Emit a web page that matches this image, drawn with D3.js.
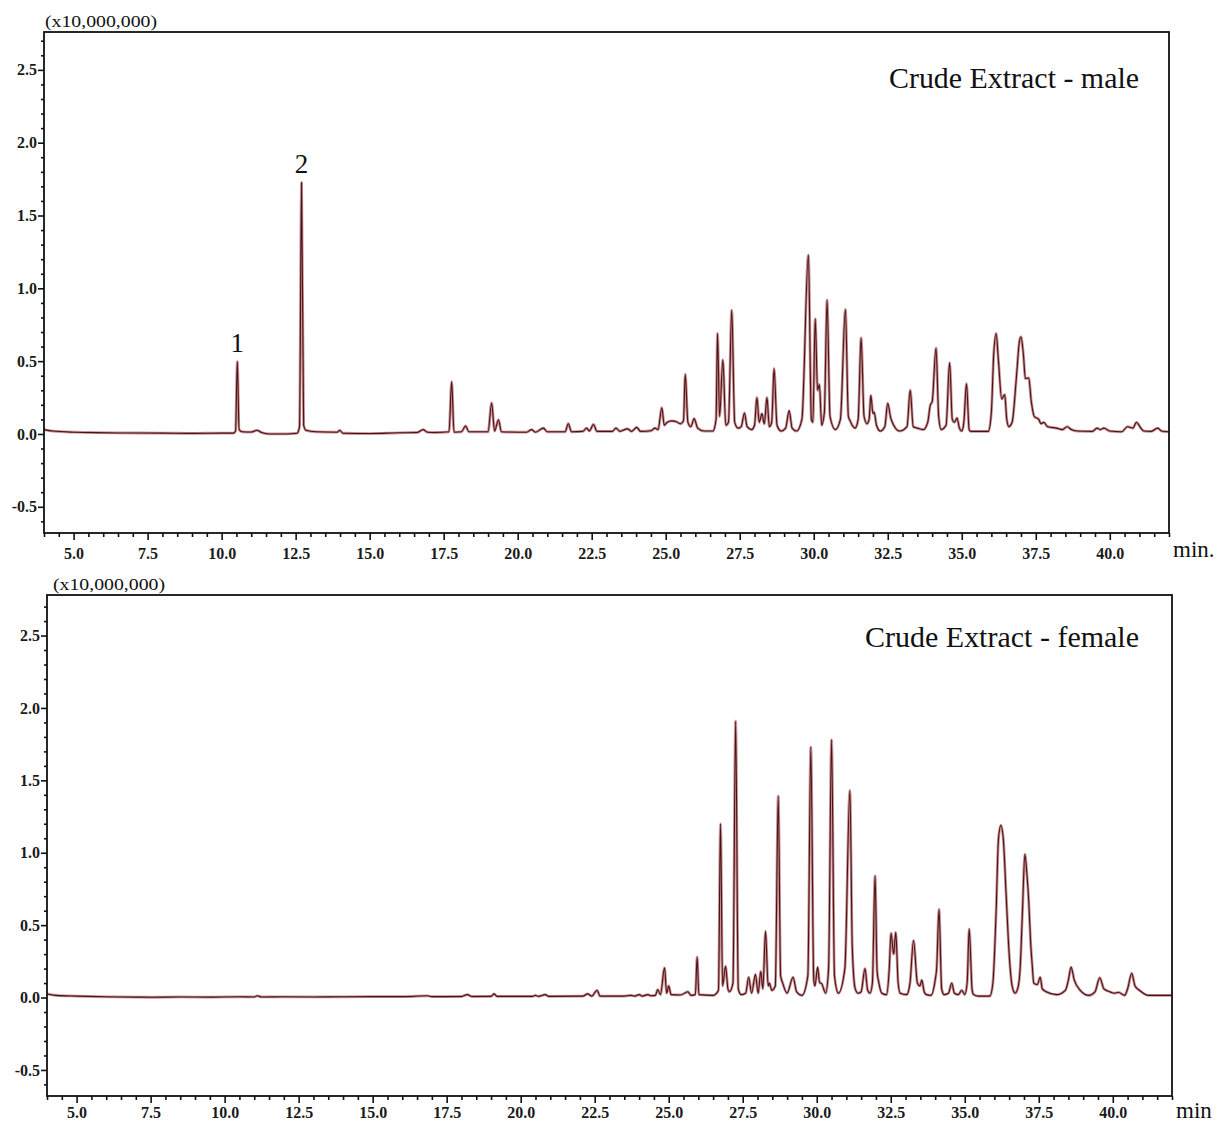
<!DOCTYPE html>
<html>
<head>
<meta charset="utf-8">
<script src="https://cdn.jsdelivr.net/npm/d3@7"></script>
<style>
  html, body { margin: 0; padding: 0; background: #fff; }
  svg { display: block; }
</style>
</head>
<body>
<svg id="chart" width="1221" height="1123"></svg>
<script>
// ---------------- DATA ----------------
// Retention time (min) and abundance (x10,000,000)
const maleRT = [4.0,4.3,5.0,5.5,6.5,8.0,9.0,10.0,10.4,10.47,10.53,10.59,10.7,11.0,11.19,11.35,11.6,12.2,12.55,12.63,12.70,12.77,12.85,13.2,13.9,13.99,14.1,15.0,16.0,16.6,16.81,16.95,17.2,17.68,17.77,17.85,18.1,18.24,18.35,19.0,19.12,19.22,19.35,19.45,20.3,20.47,20.6,20.87,21.0,21.6,21.71,21.82,22.2,22.33,22.42,22.56,22.68,23.2,23.32,23.45,23.71,23.85,24.02,24.15,24.5,24.64,24.74,24.87,24.95,25.05,25.2,25.35,25.5,25.6,25.66,25.75,25.85,25.96,26.08,26.3,26.6,26.7,26.75,26.82,26.93,27.03,27.12,27.23,27.33,27.45,27.55,27.66,27.75,27.9,28.0,28.08,28.16,28.25,28.33,28.42,28.5,28.58,28.66,28.76,28.9,29.05,29.17,29.27,29.42,29.6,29.82,29.92,29.97,30.05,30.13,30.19,30.27,30.36,30.45,30.55,30.73,30.9,31.07,31.17,31.23,31.3,31.4,31.5,31.6,31.7,31.8,31.87,31.93,32.0,32.04,32.12,32.25,32.4,32.5,32.6,32.7,32.9,33.15,33.26,33.36,33.5,33.7,33.85,33.94,34.0,34.13,34.22,34.3,34.47,34.59,34.68,34.75,34.84,34.92,35.0,35.07,35.16,35.25,35.3,35.9,36.0,36.08,36.16,36.24,36.35,36.45,36.52,36.59,36.7,36.85,36.95,37.0,37.08,37.15,37.26,37.35,37.45,37.6,37.68,37.77,37.9,38.2,38.4,38.56,38.7,38.9,39.42,39.57,39.68,39.8,40.0,40.4,40.6,40.7,40.78,40.9,41.05,41.15,41.4,41.62,41.75,42.0];
const maleAbund = [0.03,0.02,0.012,0.01,0.007,0.006,0.004,0.006,0.006,0.02,0.497,0.03,0.015,0.013,0.025,0.01,0.0,0.0,0.005,0.05,1.726,0.06,0.025,0.015,0.012,0.025,0.005,0.003,0.008,0.01,0.03,0.012,0.01,0.015,0.36,0.012,0.015,0.055,0.015,0.015,0.213,0.02,0.098,0.015,0.012,0.03,0.012,0.04,0.015,0.015,0.07,0.015,0.018,0.04,0.02,0.065,0.018,0.018,0.04,0.018,0.035,0.018,0.045,0.018,0.022,0.04,0.03,0.18,0.06,0.08,0.09,0.085,0.07,0.09,0.41,0.08,0.05,0.105,0.04,0.02,0.02,0.1,0.69,0.12,0.51,0.06,0.08,0.85,0.08,0.04,0.05,0.144,0.05,0.03,0.06,0.25,0.08,0.14,0.07,0.25,0.05,0.08,0.45,0.06,0.02,0.04,0.16,0.04,0.02,0.1,1.23,0.1,0.08,0.79,0.3,0.34,0.06,0.15,0.92,0.12,0.03,0.1,0.855,0.12,0.09,0.06,0.04,0.1,0.66,0.12,0.07,0.1,0.265,0.14,0.15,0.06,0.02,0.05,0.21,0.11,0.06,0.02,0.05,0.30,0.05,0.04,0.03,0.08,0.20,0.22,0.59,0.12,0.03,0.06,0.49,0.1,0.08,0.11,0.04,0.02,0.08,0.345,0.03,0.018,0.018,0.15,0.55,0.69,0.5,0.24,0.27,0.1,0.05,0.08,0.4,0.64,0.666,0.55,0.38,0.385,0.22,0.12,0.1,0.07,0.08,0.05,0.04,0.03,0.05,0.03,0.02,0.018,0.04,0.03,0.04,0.02,0.015,0.05,0.045,0.04,0.08,0.04,0.02,0.018,0.04,0.02,0.015];

const femaleRT = [4.0,4.3,5.0,6.0,7.0,7.5,8.5,9.5,10.5,11.0,11.1,11.25,12.0,13.0,14.0,15.0,16.0,16.85,17.0,18.0,18.2,18.35,19.0,19.1,19.2,20.4,20.5,20.6,20.83,20.95,22.1,22.26,22.4,22.58,22.68,23.5,23.73,23.85,24.01,24.1,24.3,24.4,24.55,24.63,24.72,24.86,24.93,25.0,25.08,25.4,25.65,25.75,25.9,25.96,26.02,26.5,26.68,26.75,26.82,26.92,27.0,27.05,27.17,27.26,27.35,27.45,27.6,27.7,27.8,27.93,28.02,28.11,28.18,28.27,28.36,28.4,28.48,28.6,28.70,28.78,28.85,29.0,29.2,29.32,29.5,29.7,29.8,29.9,29.94,30.03,30.1,30.15,30.3,30.4,30.5,30.6,30.73,30.95,31.12,31.2,31.3,31.4,31.5,31.63,31.72,31.8,31.88,31.97,32.04,32.1,32.2,32.36,32.45,32.51,32.6,32.67,32.75,32.82,33.04,33.15,33.27,33.4,33.48,33.55,33.63,33.7,33.86,34.0,34.05,34.13,34.22,34.3,34.45,34.56,34.65,34.78,34.9,35.0,35.08,35.15,35.25,35.3,35.46,35.85,35.95,36.06,36.14,36.22,36.3,36.4,36.5,36.6,36.7,36.8,36.87,36.95,37.03,37.1,37.16,37.22,37.28,37.33,37.45,37.55,37.62,37.75,38.1,38.4,38.5,38.59,38.7,38.9,39.2,39.4,39.56,39.7,39.9,40.05,40.2,40.4,40.5,40.64,40.75,40.9,41.2,42.0];
const femaleAbund = [0.025,0.015,0.01,0.005,0.003,0.002,0.004,0.003,0.005,0.004,0.012,0.004,0.005,0.004,0.005,0.006,0.006,0.012,0.006,0.007,0.02,0.007,0.008,0.025,0.008,0.008,0.015,0.008,0.02,0.008,0.01,0.025,0.01,0.05,0.01,0.01,0.015,0.01,0.02,0.01,0.02,0.012,0.015,0.055,0.02,0.205,0.03,0.08,0.02,0.018,0.04,0.015,0.02,0.28,0.02,0.015,0.05,1.20,0.08,0.216,0.06,0.04,0.1,1.908,0.06,0.02,0.03,0.14,0.03,0.16,0.03,0.18,0.06,0.458,0.08,0.1,0.05,0.08,1.39,0.15,0.1,0.03,0.14,0.04,0.015,0.15,1.729,0.12,0.08,0.21,0.1,0.1,0.03,0.2,1.78,0.15,0.03,0.2,1.43,0.35,0.06,0.03,0.04,0.2,0.05,0.03,0.1,0.84,0.18,0.1,0.03,0.02,0.2,0.444,0.3,0.45,0.1,0.03,0.02,0.1,0.394,0.1,0.08,0.12,0.04,0.02,0.015,0.12,0.2,0.61,0.06,0.02,0.03,0.1,0.03,0.02,0.05,0.02,0.1,0.474,0.05,0.02,0.01,0.01,0.1,0.6,1.1,1.19,1.1,0.7,0.3,0.08,0.03,0.07,0.2,0.6,0.99,0.85,0.67,0.4,0.22,0.1,0.09,0.14,0.06,0.04,0.02,0.05,0.12,0.21,0.12,0.05,0.015,0.04,0.137,0.06,0.04,0.03,0.035,0.015,0.06,0.168,0.08,0.05,0.015,0.015];

const xTickLabels = ["5.0","7.5","10.0","12.5","15.0","17.5","20.0","22.5","25.0","27.5","30.0","32.5","35.0","37.5","40.0"];
const yTickLabels = ["-0.5","0.0","0.5","1.0","1.5","2.0","2.5"];
const panelTitles = ["Crude Extract - male", "Crude Extract - female"];
const unitLabel = "(x10,000,000)";
const xUnitLabels = ["min.", "min"];
const peakLabels = [{rt: 10.53, val: 0.497, text: "1"}, {rt: 12.70, val: 1.726, text: "2"}];
const xDomain = [4.0, 42.0];

// ---------------- DRAWING ----------------
const svg = d3.select("#chart");
const serif = "'Liberation Serif','Times New Roman',serif";

const panels = [
  { left: 44, right: 1169, top: 32, bottom: 533, yDom: [-0.68, 2.76],
    rt: maleRT, ab: maleAbund, title: panelTitles[0], titleY: 88, titleW: 250,
    unitY: 27, unitX: 45, xUnit: xUnitLabels[0], xUnitY: 557, peaks: peakLabels, xPad: 8 },
  { left: 47, right: 1172, top: 595, bottom: 1096, yDom: [-0.68, 2.78],
    rt: femaleRT, ab: femaleAbund, title: panelTitles[1], titleY: 647, titleW: 274,
    unitY: 590, unitX: 53, xUnit: xUnitLabels[1], xUnitY: 1118, peaks: [], xPad: 4 }
];

panels.forEach((p, i) => {
  const g = svg.append("g");
  const x = d3.scaleLinear().domain(xDomain).range([p.left, p.right]);
  const y = d3.scaleLinear().domain(p.yDom).range([p.bottom, p.top]);

  const clipId = "clip" + i;
  svg.append("clipPath").attr("id", clipId).append("rect")
    .attr("x", p.left).attr("y", p.top)
    .attr("width", p.right - p.left).attr("height", p.bottom - p.top);

  // trace
  const pts = p.rt.map((t, k) => [t, p.ab[k]]);
  const line = d3.line().x(d => x(d[0])).y(d => y(d[1])).curve(d3.curveMonotoneX);
  const tg = g.append("g").attr("clip-path", `url(#${clipId})`);
  tg.append("path").datum(pts).attr("d", line)
    .attr("fill", "none").attr("stroke", "#c49396").attr("stroke-width", 2.8)
    .attr("stroke-linejoin", "round");
  tg.append("path").datum(pts).attr("d", line)
    .attr("fill", "none").attr("stroke", "#4f1014").attr("stroke-width", 1.1)
    .attr("stroke-linejoin", "round");

  // x axis: major ticks with labels, minor every 0.5
  const xMajor = xTickLabels.map(s => +s);
  const xMinor = d3.range(4.0, 42.01, 0.5).filter(v => !xMajor.some(m => Math.abs(m - v) < 1e-6));
  const xAxis = d3.axisBottom(x).tickValues(xMajor).tickSize(7).tickPadding(p.xPad)
    .tickFormat((d, k) => xTickLabels[k]);
  const xa = g.append("g").attr("transform", `translate(0,${p.bottom})`).call(xAxis);
  xa.select(".domain").remove();
  xa.selectAll(".tick line").attr("stroke", "#111").attr("stroke-width", 1.6);
  xa.selectAll(".tick text").attr("font-family", serif).attr("font-weight", "bold")
    .attr("font-size", 16).attr("fill", "#1a1a1a").attr("dy", "0.68em");
  const xm = d3.axisBottom(x).tickValues(xMinor).tickSize(4).tickFormat("");
  const xma = g.append("g").attr("transform", `translate(0,${p.bottom})`).call(xm);
  xma.select(".domain").remove();
  xma.selectAll(".tick line").attr("stroke", "#111").attr("stroke-width", 1.6);

  // y axis: major every 0.5, minor every 0.1
  const yMajor = yTickLabels.map(s => +s);
  const yMinor = d3.range(-6, 28).map(v => v / 10).filter(v => v >= p.yDom[0] && v <= p.yDom[1])
    .filter(v => !yMajor.some(m => Math.abs(m - v) < 1e-6));
  const yAxis = d3.axisLeft(y).tickValues(yMajor).tickSize(6).tickPadding(1)
    .tickFormat((d, k) => yTickLabels[k]);
  const ya = g.append("g").attr("transform", `translate(${p.left},0)`).call(yAxis);
  ya.select(".domain").remove();
  ya.selectAll(".tick line").attr("stroke", "#111").attr("stroke-width", 1.6);
  ya.selectAll(".tick text").attr("font-family", serif).attr("font-weight", "bold")
    .attr("font-size", 16).attr("fill", "#1a1a1a");
  const ym = d3.axisLeft(y).tickValues(yMinor).tickSize(3).tickFormat("");
  const yma = g.append("g").attr("transform", `translate(${p.left},0)`).call(ym);
  yma.select(".domain").remove();
  yma.selectAll(".tick line").attr("stroke", "#111").attr("stroke-width", 1.6);

  // frame
  g.append("rect").attr("x", p.left).attr("y", p.top)
    .attr("width", p.right - p.left).attr("height", p.bottom - p.top)
    .attr("fill", "none").attr("stroke", "#111").attr("stroke-width", 1.8);

  // unit label
  g.append("text").attr("x", p.unitX).attr("y", p.unitY)
    .attr("font-family", serif).attr("font-size", 17).attr("fill", "#111")
    .attr("textLength", 112).attr("lengthAdjust", "spacingAndGlyphs")
    .text(unitLabel);

  // x unit label
  g.append("text").attr("x", p.right + 4).attr("y", p.xUnitY)
    .attr("font-family", serif).attr("font-size", 23).attr("fill", "#111")
    .text(p.xUnit);

  // title
  g.append("text").attr("x", 1139 - p.titleW).attr("y", p.titleY)
    .attr("font-family", serif).attr("font-size", 29).attr("fill", "#111")
    .attr("textLength", p.titleW).attr("lengthAdjust", "spacingAndGlyphs")
    .text(p.title);

  // peak labels
  p.peaks.forEach(pk => {
    g.append("text").attr("x", x(pk.rt)).attr("y", y(pk.val) - 10)
      .attr("text-anchor", "middle")
      .attr("font-family", serif).attr("font-size", 27).attr("fill", "#111")
      .text(pk.text);
  });
});
</script>
</body>
</html>
